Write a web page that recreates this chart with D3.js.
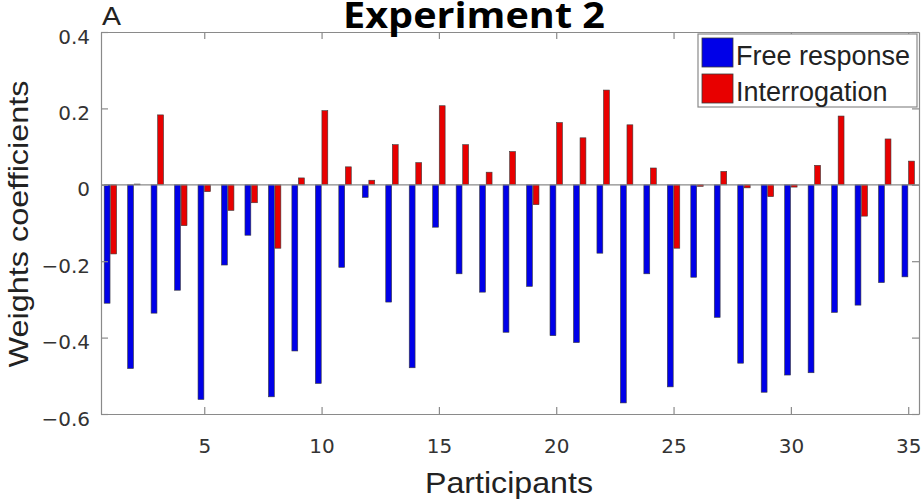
<!DOCTYPE html>
<html>
<head>
<meta charset="utf-8">
<script src="https://cdn.jsdelivr.net/npm/d3@7"></script>
<style>
  html, body { margin: 0; padding: 0; background: #fff; }
  svg { display: block; }
</style>
</head>
<body>
<svg id="chart" width="924" height="502"></svg>
<script>
// Participant numbers along the x axis
const participants = [1,2,3,4,5,6,7,8,9,10,11,12,13,14,15,16,17,18,19,20,
                      21,22,23,24,25,26,27,28,29,30,31,32,33,34,35];

// Weight coefficients per participant, one array per condition
const freeResponse = [-0.310,-0.481,-0.336,-0.276,-0.562,-0.210,-0.132,-0.555,-0.435,-0.520,
                      -0.216,-0.033,-0.307,-0.479,-0.111,-0.233,-0.281,-0.386,-0.266,-0.395,
                      -0.413,-0.179,-0.571,-0.233,-0.529,-0.242,-0.347,-0.467,-0.543,-0.498,
                      -0.492,-0.334,-0.315,-0.256,-0.241];
const interrogation = [-0.181,0.002,0.183,-0.107,-0.018,-0.067,-0.047,-0.166,0.018,0.194,
                       0.047,0.012,0.105,0.058,0.207,0.105,0.033,0.087,-0.052,0.163,
                       0.123,0.248,0.157,0.044,-0.166,-0.004,0.035,-0.008,-0.031,-0.006,
                       0.051,0.180,-0.082,0.120,0.062];

const seriesNames = ["Free response", "Interrogation"];
const xTicks = [5, 10, 15, 20, 25, 30, 35];
const yTicks = [-0.6, -0.4, -0.2, 0, 0.2, 0.4];

const svg = d3.select("#chart");
const plot = { left: 101, right: 919, top: 32, bottom: 414 };

const x = d3.scaleLinear().domain([0.6, 35.46]).range([plot.left, plot.right]);
const y = d3.scaleLinear().domain([-0.6, 0.4]).range([plot.bottom, plot.top]);

const colors = ["#0000e8", "#e80000"];
const barOffset = 0.14, barWidth = 0.25;
const boxColor = "#8a8a8a";
const tickLen = 7;

// Bars
const series = [freeResponse, interrogation];
series.forEach((vals, si) => {
  const off = si === 0 ? -barOffset : barOffset;
  svg.append("g").selectAll("rect")
    .data(participants.map((p, i) => ({ p, v: vals[i] })))
    .join("rect")
    .attr("x", d => x(d.p + off - barWidth / 2))
    .attr("width", d => x(d.p + off + barWidth / 2) - x(d.p + off - barWidth / 2))
    .attr("y", d => y(Math.max(0, d.v)))
    .attr("height", d => Math.abs(y(d.v) - y(0)))
    .attr("fill", colors[si])
    .attr("stroke", "#3a3a3a")
    .attr("stroke-width", 0.6);
});

// Baseline at zero
svg.append("line")
  .attr("x1", plot.left).attr("x2", plot.right)
  .attr("y1", y(0)).attr("y2", y(0))
  .attr("stroke", boxColor).attr("stroke-width", 1.2);

// Axes with inward ticks on all four sides
const fontTick = "'DejaVu Sans', sans-serif";
const bottomAxis = d3.axisBottom(x).tickValues(xTicks).tickSizeInner(-tickLen).tickSizeOuter(0).tickPadding(25);
const topAxis = d3.axisTop(x).tickValues(xTicks).tickSizeInner(-tickLen).tickSizeOuter(0).tickFormat("");
const leftAxis = d3.axisLeft(y).tickValues(yTicks).tickSizeInner(-tickLen).tickSizeOuter(0).tickPadding(11)
  .tickFormat(d => d === 0 ? "0" : d3.format(".1f")(d));
const rightAxis = d3.axisRight(y).tickValues(yTicks).tickSizeInner(-tickLen).tickSizeOuter(0).tickFormat("");

function styleAxis(g) {
  g.select(".domain").attr("stroke", boxColor).attr("stroke-width", 1.2);
  g.selectAll(".tick line").attr("stroke", boxColor).attr("stroke-width", 1.2);
  g.selectAll(".tick text").attr("fill", "#333").attr("font-family", fontTick).attr("font-size", 20);
}

svg.append("g").attr("transform", `translate(0,${plot.bottom})`).call(bottomAxis).call(styleAxis);
svg.append("g").attr("transform", `translate(0,${plot.top})`).call(topAxis).call(styleAxis);
svg.append("g").attr("transform", `translate(${plot.left},0)`).call(leftAxis).call(styleAxis)
  .selectAll(".tick text").attr("dy", "0.55em");
svg.append("g").attr("transform", `translate(${plot.right},0)`).call(rightAxis).call(styleAxis);

// Legend
const legend = svg.append("g");
legend.append("rect")
  .attr("x", 698).attr("y", 34).attr("width", 219).attr("height", 73)
  .attr("fill", "#fff").attr("stroke", boxColor).attr("stroke-width", 1.2);
seriesNames.forEach((name, i) => {
  const top = i === 0 ? 38 : 74;
  legend.append("rect")
    .attr("x", 702).attr("y", top).attr("width", 31).attr("height", 29)
    .attr("fill", colors[i]).attr("stroke", "#3a3a3a").attr("stroke-width", 0.8);
  legend.append("text")
    .attr("x", 736).attr("y", top + 27)
    .attr("font-family", "'Liberation Sans', Arial, sans-serif")
    .attr("font-size", 27).attr("fill", "#222")
    .text(name);
});

// Axis titles
svg.append("text")
  .attr("x", 509).attr("y", 493)
  .attr("text-anchor", "middle")
  .attr("font-family", "'Liberation Sans', Arial, sans-serif")
  .attr("font-size", 29).attr("fill", "#222")
  .attr("textLength", 168).attr("lengthAdjust", "spacingAndGlyphs")
  .text("Participants");

svg.append("text")
  .attr("transform", "translate(28,224) rotate(-90)")
  .attr("text-anchor", "middle")
  .attr("font-family", "'Liberation Sans', Arial, sans-serif")
  .attr("font-size", 28).attr("fill", "#222")
  .attr("textLength", 287).attr("lengthAdjust", "spacingAndGlyphs")
  .text("Weights coefficients");

// Panel letter and title
svg.append("text")
  .attr("x", 102).attr("y", 25)
  .attr("font-family", "'Liberation Sans', Arial, sans-serif")
  .attr("font-size", 25).attr("fill", "#222")
  .attr("textLength", 19).attr("lengthAdjust", "spacingAndGlyphs")
  .text("A");

svg.append("text")
  .attr("x", 474).attr("y", 28)
  .attr("text-anchor", "middle")
  .attr("font-family", "'Open Sans', 'Noto Sans', sans-serif")
  .attr("font-weight", "bold")
  .attr("font-size", 36).attr("fill", "#000")
  .attr("textLength", 262).attr("lengthAdjust", "spacingAndGlyphs")
  .text("Experiment 2");
</script>
</body>
</html>
